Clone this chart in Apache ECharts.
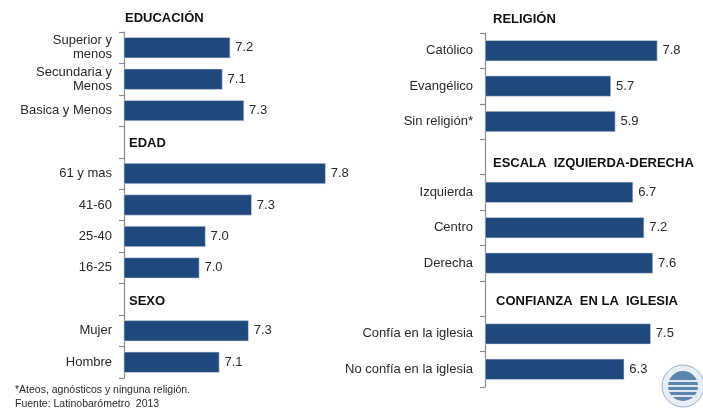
<!DOCTYPE html>
<html><head><meta charset="utf-8">
<script src="https://cdn.jsdelivr.net/npm/echarts@6/dist/echarts.min.js"></script>
<style>html,body{margin:0;padding:0;background:#fff}#c{width:703px;height:409px}</style>
</head><body><div id="c"></div>
<script>
const leftCategories = ['Superior y\nmenos','Secundaria y\nMenos','Basica y Menos','','61 y mas','41-60','25-40','16-25','','Mujer','Hombre'];
const leftValues = [7.19, 7.14, 7.28, null, 7.81, 7.33, 7.03, 6.99, null, 7.31, 7.12];
const rightCategories = ['Católico','Evangélico','Sin religión*','','Izquierda','Centro','Derecha','','Confía en la iglesia','No confía en la iglesia'];
const rightValues = [7.8, 5.7, 5.9, null, 6.7, 7.2, 7.6, null, 7.5, 6.3];
const leftHeaders = ['EDUCACIÓN','EDAD','SEXO'];
const rightHeaders = ['RELIGIÓN','ESCALA  IZQUIERDA-DERECHA','CONFIANZA  EN LA  IGLESIA'];
const notes = ['*Ateos, agnósticos y ninguna religión.','Fuente: Latinobarómetro  2013'];

const FONT = 'Liberation Sans, Arial, sans-serif';
const BAR = '#1F497D';
const chart = echarts.init(document.getElementById('c'));

function yAxisCfg(idx, cats){
  return {type:'category', gridIndex:idx, data:cats, inverse:true,
    axisLine:{show:true, lineStyle:{color:'#8c8c8c',width:1.2}},
    axisTick:{show:true, inside:false, length:5, alignWithLabel:false, interval:0, lineStyle:{color:'#8c8c8c',width:1.2}},
    axisLabel:{margin:12,fontSize:13,color:'#2a2a2a',fontFamily:FONT,lineHeight:14, interval:0}
  };
}
function seriesCfg(idx, vals){
  return {type:'bar', xAxisIndex:idx, yAxisIndex:idx, data:vals, barWidth:21,
    itemStyle:{color:BAR, borderColor:'#d6dee9', borderWidth:0.6},
    label:{show:true, position:'right', distance:5, fontSize:13, color:'#2a2a2a', fontFamily:FONT,
      formatter:p=>p.value==null?'':p.value.toFixed(1)},
    silent:true, animation:false};
}
const txt = (t,x,y,size,bold)=>({type:'text', x:x, y:y,
  style:{text:t, fontSize:size, fontWeight:bold?'bold':'normal', fill:bold?'#111':'#2a2a2a', fontFamily:FONT, verticalAlign:'middle'}});

chart.setOption({
  animation:false,
  grid:[{left:124, top:32, width:231, height:346},{left:485, top:33, width:199, height:354}],
  xAxis:[{type:'value', gridIndex:0, min:6.5, max:8, show:false, splitLine:{show:false}},
         {type:'value', gridIndex:1, min:0, max:9, show:false, splitLine:{show:false}}],
  yAxis:[yAxisCfg(0,leftCategories), yAxisCfg(1,rightCategories)],
  series:[seriesCfg(0,leftValues), seriesCfg(1,rightValues)],
  graphic:[
    txt(leftHeaders[0],125,18,13,true),
    txt(leftHeaders[1],129,143,13,true),
    txt(leftHeaders[2],129,301,13,true),
    txt(rightHeaders[0],493,19,13,true),
    txt(rightHeaders[1],493,163,13,true),
    txt(rightHeaders[2],496,301,13,true),
    txt(notes[0],15,390,10.5,false),
    txt(notes[1],15,404,10.5,false),
    {type:'group', x:683, y:386, children:[
      {type:'circle', shape:{cx:0,cy:0,r:21}, style:{fill:'#e8eef5', stroke:'#9fb3c8', lineWidth:1}},
      {type:'circle', shape:{cx:0,cy:0,r:15}, style:{fill:'#5a86b0'}},
      {type:'rect', shape:{x:-15,y:-6,width:30,height:2}, style:{fill:'#dfe8f1'}},
      {type:'rect', shape:{x:-15,y:-1,width:30,height:2}, style:{fill:'#dfe8f1'}},
      {type:'rect', shape:{x:-15,y:4,width:30,height:2}, style:{fill:'#dfe8f1'}},
      {type:'rect', shape:{x:-15,y:9,width:30,height:2}, style:{fill:'#dfe8f1'}}
    ]}
  ]
});
</script></body></html>
